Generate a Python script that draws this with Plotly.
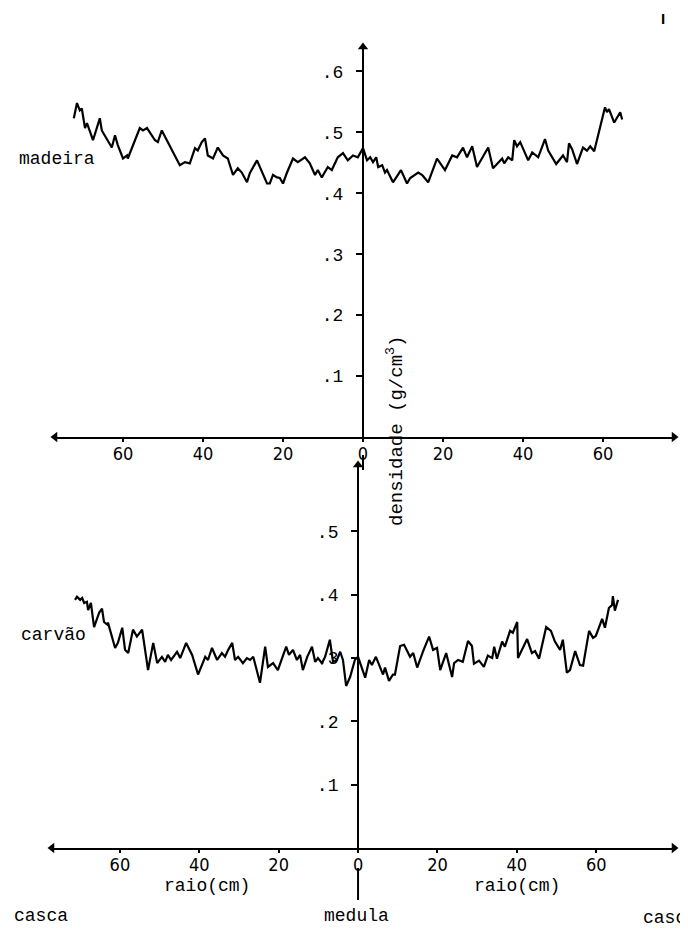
import plotly.graph_objects as go

# ---------------- data ----------------
madeira_x = [-72.3, -71.5, -70.8, -70.3, -69.5, -69.0, -67.5, -65.8, -65.3, -62.8, -62.0, -61.3, -60.0, -59.0,
             -58.8, -55.8, -55.0, -54.0, -52.0, -51.3, -50.3, -47.5, -45.8, -44.5, -43.3, -42.0, -41.3, -40.3,
             -39.5, -38.8, -37.5, -36.3, -35.0, -33.8, -32.5, -31.3, -30.3, -29.0, -28.3, -26.5, -24.5, -24.0,
             -23.3, -22.5, -21.5, -20.8, -20.0, -19.0, -17.5, -16.3, -14.5, -13.3, -12.0, -11.3, -10.3, -8.8,
             -7.8, -6.3, -5.0, -3.8, -2.5, -1.3, 0.0, 1.0, 1.8, 2.5, 3.3, 3.8, 4.8, 5.5, 6.0, 7.5, 9.5, 11.0,
             11.8, 12.8, 13.8, 14.8, 16.3, 18.5, 20.5, 22.3, 23.5, 25.0, 26.0, 27.3, 28.5, 31.3, 32.5, 34.8,
             35.3, 36.3, 37.3, 37.8, 38.5, 39.3, 41.3, 42.3, 43.8, 45.5, 46.3, 48.3, 50.0, 51.0, 51.5, 52.3,
             53.5, 55.0, 56.0, 56.8, 57.8, 60.5, 61.0, 61.5, 62.8, 64.3, 64.8]
madeira_y = [0.523, 0.548, 0.536, 0.539, 0.507, 0.515, 0.487, 0.523, 0.503, 0.475, 0.495, 0.479, 0.457, 0.462,
             0.457, 0.507, 0.503, 0.507, 0.487, 0.484, 0.503, 0.467, 0.446, 0.451, 0.449, 0.474, 0.470, 0.484,
             0.490, 0.462, 0.457, 0.475, 0.462, 0.457, 0.430, 0.441, 0.434, 0.418, 0.433, 0.454, 0.421, 0.416,
             0.416, 0.430, 0.426, 0.425, 0.416, 0.434, 0.457, 0.451, 0.459, 0.449, 0.430, 0.438, 0.426, 0.443,
             0.438, 0.459, 0.466, 0.454, 0.462, 0.459, 0.474, 0.454, 0.459, 0.451, 0.459, 0.443, 0.446, 0.434,
             0.438, 0.418, 0.438, 0.416, 0.425, 0.430, 0.434, 0.430, 0.418, 0.457, 0.438, 0.462, 0.459, 0.475,
             0.459, 0.477, 0.443, 0.475, 0.441, 0.457, 0.449, 0.459, 0.454, 0.487, 0.477, 0.484, 0.454, 0.467,
             0.459, 0.489, 0.470, 0.448, 0.462, 0.451, 0.482, 0.472, 0.448, 0.475, 0.470, 0.477, 0.469, 0.541,
             0.533, 0.538, 0.516, 0.533, 0.521]

carvao_x = [-71.3, -70.8, -70.0, -69.5, -69.0, -68.3, -68.0, -67.3, -66.5, -65.2, -64.5, -64.0, -63.2, -63.0,
            -61.2, -60.5, -59.4, -58.7, -57.9, -56.7, -55.7, -54.4, -52.9, -51.6, -50.6, -49.4, -48.6, -47.9,
            -47.1, -45.6, -44.8, -43.3, -41.8, -40.3, -38.5, -37.8, -36.8, -35.5, -34.3, -33.5, -32.7, -31.7,
            -31.0, -30.2, -29.0, -28.0, -27.2, -26.4, -24.7, -23.4, -22.7, -21.4, -20.2, -18.9, -18.1, -17.4,
            -16.4, -15.4, -14.6, -13.9, -12.8, -11.6, -10.8, -10.1, -9.1, -8.3, -7.1, -6.3, -5.3, -4.5, -3.8,
            -3.0, -2.0, -0.8, 0.0, 1.8, 2.8, 3.5, 4.5, 6.3, 6.8, 7.8, 8.8, 9.3, 10.6, 11.6, 13.1, 13.9, 14.9,
            16.4, 17.9, 18.9, 19.9, 20.7, 22.2, 23.7, 24.2, 25.2, 26.4, 27.7, 28.7, 29.2, 30.5, 31.7, 32.7,
            33.8, 34.3, 35.0, 36.3, 37.0, 38.3, 39.0, 40.1, 40.3, 42.6, 43.8, 44.6, 45.6, 47.4, 48.6, 49.6,
            50.9, 51.6, 52.6, 53.4, 54.7, 55.9, 56.7, 58.2, 59.2, 59.9, 61.5, 62.2, 63.2, 64.0, 64.2, 64.7, 65.5]
carvao_y = [0.392, 0.397, 0.392, 0.395, 0.387, 0.389, 0.376, 0.387, 0.349, 0.372, 0.378, 0.357, 0.353, 0.356,
            0.316, 0.324, 0.348, 0.313, 0.308, 0.345, 0.334, 0.345, 0.281, 0.324, 0.292, 0.302, 0.294, 0.305,
            0.297, 0.310, 0.300, 0.324, 0.305, 0.274, 0.302, 0.297, 0.316, 0.297, 0.308, 0.302, 0.313, 0.324,
            0.297, 0.302, 0.292, 0.300, 0.297, 0.302, 0.261, 0.318, 0.286, 0.292, 0.281, 0.302, 0.318, 0.305,
            0.313, 0.297, 0.305, 0.281, 0.302, 0.318, 0.294, 0.300, 0.292, 0.302, 0.329, 0.294, 0.297, 0.310,
            0.297, 0.256, 0.270, 0.297, 0.302, 0.269, 0.297, 0.289, 0.302, 0.274, 0.285, 0.264, 0.274, 0.274,
            0.319, 0.321, 0.302, 0.308, 0.285, 0.311, 0.334, 0.313, 0.316, 0.281, 0.308, 0.270, 0.292, 0.297,
            0.294, 0.327, 0.319, 0.291, 0.296, 0.286, 0.304, 0.300, 0.318, 0.299, 0.326, 0.318, 0.343, 0.340,
            0.357, 0.300, 0.330, 0.308, 0.311, 0.299, 0.349, 0.343, 0.326, 0.313, 0.329, 0.277, 0.281, 0.311,
            0.289, 0.288, 0.343, 0.332, 0.335, 0.362, 0.348, 0.379, 0.384, 0.398, 0.375, 0.392]

x_tickvals = [-60, -40, -20, 0, 20, 40, 60]
x_ticktext = ["60", "40", "20", "0", "20", "40", "60"]
top_y_tickvals = [0.1, 0.2, 0.3, 0.4, 0.5, 0.6]
top_y_ticktext = [".1", ".2", ".3", ".4", ".5", ".6"]
bot_y_tickvals = [0.1, 0.2, 0.3, 0.4, 0.5]
bot_y_ticktext = [".1", ".2", ".3", ".4", ".5"]

# ---------------- layout helpers ----------------
# The page body has an 8px margin, so the figure is 8px smaller than the window on each used side.
OFF = 8
W, H = 688 - OFF, 930 - OFF
MONO = "Liberation Mono, Courier New, monospace"
NARROW = "Liberation Sans Narrow, DejaVu Sans Condensed, Arial Narrow, sans-serif"


def px(xp):
    """window pixel x -> paper fraction"""
    return (xp - OFF) / W


def py(yp):
    """window pixel y -> paper fraction"""
    return (H - (yp - OFF)) / H


top_xrange = [-77.0, 77.75]
top_xdom = [px(55), px(674)]
top_yrange = [0, 0.64]
top_ydom = [py(437), py(47)]

bot_xrange = [-77.1, 79.6]
bot_xdom = [px(52), px(674)]
bot_yrange = [0, 0.605]
bot_ydom = [py(848), py(465)]


def zero_pos(rng, dom):
    return dom[0] + (0 - rng[0]) / (rng[1] - rng[0]) * (dom[1] - dom[0])


top_ypos = zero_pos(top_xrange, top_xdom)
bot_ypos = zero_pos(bot_xrange, bot_xdom)

fig = go.Figure()
line_style = dict(color="black", width=2.2)
fig.add_trace(go.Scatter(x=madeira_x, y=madeira_y, mode="lines", line=line_style,
                         xaxis="x", yaxis="y", showlegend=False, hoverinfo="skip"))
fig.add_trace(go.Scatter(x=carvao_x, y=carvao_y, mode="lines", line=line_style,
                         xaxis="x2", yaxis="y2", showlegend=False, hoverinfo="skip"))

# arrowheads at the axis ends
for xr, yr, xa, ya in [(top_xrange, top_yrange, "x", "y"), (bot_xrange, bot_yrange, "x2", "y2")]:
    fig.add_trace(go.Scatter(x=[xr[0], xr[1], 0], y=[0, 0, yr[1]], mode="markers",
                             marker=dict(symbol=["triangle-left", "triangle-right", "triangle-up"],
                                         size=9, color="black"),
                             xaxis=xa, yaxis=ya, cliponaxis=False, showlegend=False, hoverinfo="skip"))

common_x = dict(showgrid=False, zeroline=False, showline=True, linecolor="black", linewidth=2,
                ticks="outside", ticklen=3, tickwidth=1.5, tickcolor="black",
                tickvals=x_tickvals, ticktext=x_ticktext, ticklabelstandoff=-4,
                tickfont=dict(family=NARROW, size=18, color="black"), fixedrange=True)
common_xi = dict(showgrid=False, zeroline=False, showline=False, ticks="inside", ticklen=8,
                 tickwidth=1.5, tickcolor="black", tickvals=x_tickvals, showticklabels=False,
                 fixedrange=True)
common_y = dict(showgrid=False, zeroline=False, showline=True, linecolor="black", linewidth=2,
                ticks="outside", ticklen=6, tickwidth=1.5, tickcolor="black", ticklabelstandoff=9,
                tickfont=dict(family=MONO, size=18, color="black"), anchor="free", fixedrange=True)
common_yi = dict(showgrid=False, zeroline=False, showline=False, ticks="inside", ticklen=6,
                 tickwidth=1.5, tickcolor="black", showticklabels=False, anchor="free",
                 fixedrange=True)

fig.update_layout(
    width=W, height=H, margin=dict(l=0, r=0, t=0, b=0),
    paper_bgcolor="white", plot_bgcolor="rgba(0,0,0,0)",
    xaxis=dict(domain=top_xdom, range=top_xrange, anchor="y", **common_x),
    xaxis3=dict(domain=top_xdom, range=top_xrange, anchor="y", overlaying="x", **common_xi),
    yaxis=dict(domain=top_ydom, range=top_yrange, position=top_ypos,
               tickvals=top_y_tickvals, ticktext=top_y_ticktext, **common_y),
    yaxis3=dict(domain=top_ydom, range=top_yrange, position=top_ypos, overlaying="y",
                tickvals=top_y_tickvals, **common_yi),
    xaxis2=dict(domain=bot_xdom, range=bot_xrange, anchor="y2", **common_x),
    xaxis4=dict(domain=bot_xdom, range=bot_xrange, anchor="y2", overlaying="x2", **common_xi),
    yaxis2=dict(domain=bot_ydom, range=bot_yrange, position=bot_ypos,
                tickvals=bot_y_tickvals, ticktext=bot_y_ticktext, **common_y),
    yaxis4=dict(domain=bot_ydom, range=bot_yrange, position=bot_ypos, overlaying="y2",
                tickvals=bot_y_tickvals, **common_yi),
)

# small vertical marks below the zero labels
fig.add_shape(type="line", xref="x", yref="paper", x0=0, x1=0, y0=py(455), y1=py(470),
              line=dict(color="black", width=2))
fig.add_shape(type="line", xref="x2", yref="paper", x0=0, x1=0, y0=py(868), y1=py(900),
              line=dict(color="black", width=2))

txt = dict(showarrow=False, xref="paper", yref="paper", font=dict(family=MONO, size=18, color="black"))
fig.add_annotation(text="madeira", x=px(17), y=py(159), xanchor="left", yanchor="middle", **txt)
fig.add_annotation(text="carvão", x=px(19), y=py(635), xanchor="left", yanchor="middle", **txt)
fig.add_annotation(text="raio(cm)", x=px(207), y=py(886), xanchor="center", yanchor="middle", **txt)
fig.add_annotation(text="raio(cm)", x=px(517), y=py(886), xanchor="center", yanchor="middle", **txt)
fig.add_annotation(text="casca", x=px(12), y=py(916), xanchor="left", yanchor="middle", **txt)
fig.add_annotation(text="medula", x=px(357), y=py(916), xanchor="center", yanchor="middle", **txt)
fig.add_annotation(text="casca", x=px(641), y=py(918), xanchor="left", yanchor="middle", **txt)
fig.add_annotation(text="densidade (g/cm<sup>3</sup>)", x=px(396), y=py(431), textangle=-90,
                   xanchor="center", yanchor="middle", showarrow=False, xref="paper", yref="paper",
                   font=dict(family=MONO, size=19, color="black"))
fig.add_annotation(text="<b>I</b>", x=px(663), y=py(18), xanchor="center", yanchor="middle",
                   showarrow=False, xref="paper", yref="paper",
                   font=dict(family="Liberation Sans, sans-serif", size=15, color="black"))

fig.write_html("out.html")
